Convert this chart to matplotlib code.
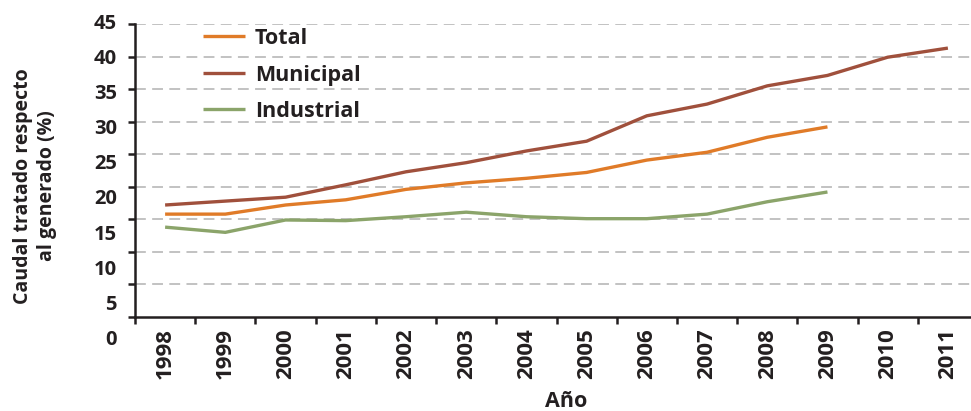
import numpy as np
import matplotlib.pyplot as plt
import matplotlib.transforms as mtransforms

plt.rcParams['font.family'] = ['Open Sans', 'DejaVu Sans']

# Data
years = ['1998', '1999', '2000', '2001', '2002', '2003', '2004',
         '2005', '2006', '2007', '2008', '2009', '2010', '2011']
total = [15.8, 15.8, 17.2, 18.0, 19.6, 20.6, 21.3, 22.2, 24.1, 25.3, 27.6, 29.2]
municipal = [17.2, 17.8, 18.4, 20.3, 22.3, 23.7, 25.5, 27.0, 30.9, 32.7,
             35.5, 37.1, 39.9, 41.3]
industrial = [13.8, 13.0, 14.9, 14.8, 15.4, 16.1, 15.4, 15.1, 15.1, 15.8,
              17.7, 19.2]
yticks = [0, 5, 10, 15, 20, 25, 30, 35, 40, 45]

ink = '#231F20'

fig = plt.figure(figsize=(9.71, 4.11), dpi=100)
ax = fig.add_axes([135 / 971, 1 - 317 / 411, 843 / 971, 293 / 411])

x = np.arange(len(years))
ax.plot(x[:len(total)], total, color='#E07B28', lw=2.4, label='Total',
        solid_capstyle='butt')
ax.plot(x[:len(municipal)], municipal, color='#A0503C', lw=2.4,
        label='Municipal', solid_capstyle='butt')
ax.plot(x[:len(industrial)], industrial, color='#8BA46A', lw=2.4,
        label='Industrial', solid_capstyle='butt')

ax.set_xlim(-0.5, len(years) - 0.5)
ax.set_ylim(0, 45)

# y grid
for v in yticks[1:]:
    ax.axhline(v, color='#BDBDBD', lw=1.3, dashes=(6, 3.5), zorder=0)

ax.spines['top'].set_visible(False)
ax.spines['right'].set_visible(False)
for s in ('left', 'bottom'):
    ax.spines[s].set_linewidth(1.8)
    ax.spines[s].set_color(ink)

# x axis: ticks between categories, labels at centers
ax.set_xticks(np.arange(-0.5, len(years), 1.0))
ax.set_xticklabels([])
ax.set_xticks(x, minor=True)
ax.set_xticklabels(years, minor=True, rotation=90, fontsize=16,
                   fontweight='bold', color=ink)
ax.tick_params(axis='x', which='major', length=5, width=1.8, color=ink)
ax.tick_params(axis='x', which='minor', length=0, pad=8)

# y axis: ticks at grid, labels placed slightly off (as in the original)
ax.set_yticks(yticks)
ax.set_yticklabels([])
ax.tick_params(axis='y', length=5, width=1.8, color=ink)
trans = mtransforms.blended_transform_factory(fig.transFigure, ax.transData)
for v in yticks:
    ypos = 45 - 1.078 * (45 - v)
    ax.text(117 / 971, ypos, str(v), transform=trans, ha='right',
            va='center', fontsize=14.5, fontweight='bold', color=ink,
            clip_on=False)

ax.set_xlabel('Año', fontsize=15.5, fontweight='bold', color=ink,
              va='center')
ax.xaxis.set_label_coords(0.512, -0.29)
ax.set_ylabel('Caudal tratado respecto\nal generado (%)', fontsize=14,
              fontweight='bold', color=ink, linespacing=1.3,
              va='center')
ax.yaxis.set_label_coords(-0.1186, 0.447)

leg = ax.legend(loc='upper left', bbox_to_anchor=(203 / 971, 1 - 28 / 411),
                bbox_transform=fig.transFigure, frameon=False, fontsize=15.5,
                handlelength=1.95, labelspacing=0.72, handletextpad=0.47,
                borderpad=0, borderaxespad=0)
for t in leg.get_texts():
    t.set_fontweight('bold')
    t.set_color(ink)

fig.savefig('out.png', dpi=100)
